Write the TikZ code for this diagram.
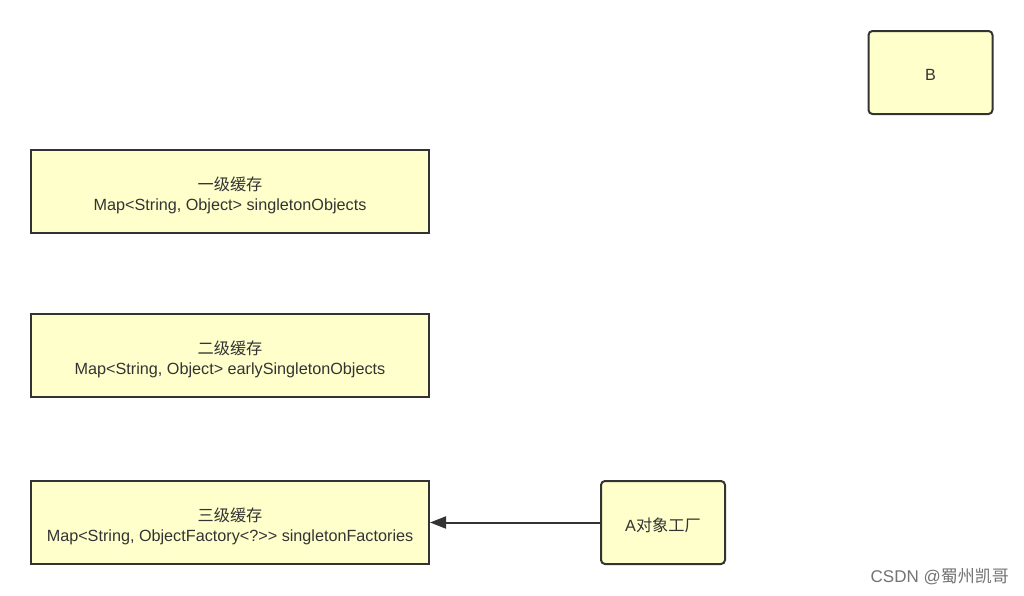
\documentclass[tikz,border=0pt]{standalone}
\usepackage{fontspec}
\setmainfont{Liberation Sans}
\newfontfamily\cjk{Noto Sans CJK SC}
\usetikzlibrary{arrows.meta}
\definecolor{boxfill}{HTML}{FFFFCC}
\definecolor{boxline}{HTML}{333333}
\tikzset{
  cachebox/.style={draw=boxline, fill=boxfill, line width=2pt, minimum width=398pt, minimum height=83pt, align=center, font=\fontsize{16.2}{20}\selectfont, text=black!80, inner sep=0pt},
  objbox/.style={draw=boxline, fill=boxfill, line width=2pt, rounded corners=4pt, minimum width=124pt, minimum height=83pt, align=center, font=\fontsize{16.2}{20}\selectfont, text=black!80, inner sep=0pt},
  link/.style={draw=boxline, line width=2pt, -{Triangle[length=16pt,width=12pt]}}
}
\begin{document}
\begin{tikzpicture}[x=1pt,y=-1pt]
\useasboundingbox[fill=white] (0,0) rectangle (1024,595);
\node[objbox] (B) at (930.5,72.5) {\rule{0pt}{16.5pt}B};
\node[cachebox] (c1) at (230,191.5) {\rule{0pt}{21pt}{\cjk 一级缓存}\\Map<String, Object> singletonObjects};
\node[cachebox] (c2) at (230,355.5) {\rule{0pt}{21pt}{\cjk 二级缓存}\\Map<String, Object> earlySingletonObjects};
\node[cachebox] (c3) at (230,522.5) {\rule{0pt}{21pt}{\cjk 三级缓存}\\Map<String, ObjectFactory<?>{}> singletonFactories};
\node[objbox] (fa) at (663,522.5) {\rule{0pt}{19pt}A{\cjk 对象工厂}};
\draw[link] (fa.west) -- (c3.east);
\node[font=\fontsize{17}{18}\selectfont, text=black!55, anchor=east, inner sep=0pt] (wm) at (1009,577) {CSDN @{\cjk 蜀州凯哥}};
\end{tikzpicture}
\end{document}
